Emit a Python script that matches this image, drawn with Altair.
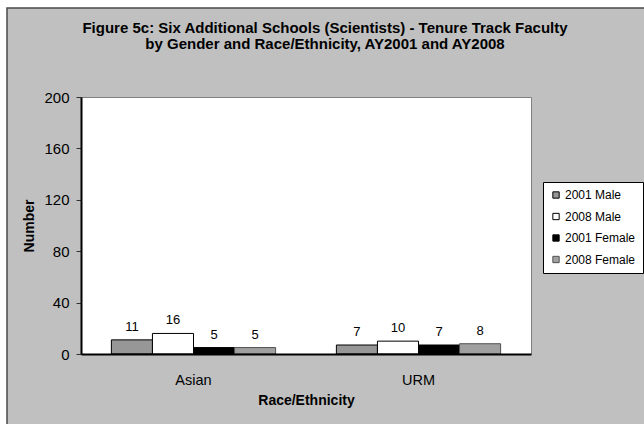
import altair as alt
import pandas as pd

# Faculty counts by race/ethnicity, split by year and gender
categories = ["Asian", "URM"]
series = ["2001 Male", "2008 Male", "2001 Female", "2008 Female"]
asian_counts = [11, 16, 5, 5]
urm_counts = [7, 10, 7, 8]

title_lines = [
    "Figure 5c: Six Additional Schools (Scientists) - Tenure Track Faculty",
    "by Gender and Race/Ethnicity, AY2001 and AY2008",
]

series_fill = ["#979797", "#ffffff", "#000000", "#a0a0a0"]
series_stroke = ["#000000", "#000000", "#000000", "#505050"]
y_ticks = [0, 40, 80, 120, 160, 200]

rows = []
for cat, vals in zip(categories, [asian_counts, urm_counts]):
    for s, v in zip(series, vals):
        rows.append({"group": cat, "series": s, "count": v})
df = pd.DataFrame(rows)

FONT = "Liberation Sans"
W, H = 450, 257
PAD = {"left": 81, "top": 97, "right": 113, "bottom": 70}

x_enc = alt.X(
    "group:N",
    sort=categories,
    title="Race/Ethnicity",
    scale=alt.Scale(paddingInner=0, paddingOuter=0),
    axis=alt.Axis(
        labelAngle=0,
        ticks=False,
        tickSize=0,
        labelPadding=19,
        labelFontSize=14.5,
        labelColor="black",
        labelFont=FONT,
        titleFont=FONT,
        titleFontSize=14,
        titleFontWeight="bold",
        titleColor="black",
        titlePadding=7,
        domainColor="black",
        domainWidth=2,
        grid=False,
        zindex=1,
    ),
)
xoff_enc = alt.XOffset(
    "series:N", sort=series, scale=alt.Scale(paddingInner=0, paddingOuter=0.74)
)
y_enc = alt.Y(
    "count:Q",
    title="Number",
    scale=alt.Scale(domain=[0, 200], nice=False, zero=True),
    axis=alt.Axis(
        values=y_ticks,
        tickSize=5,
        tickColor="#333333",
        labelPadding=7,
        labelFontSize=15,
        labelColor="black",
        labelFont=FONT,
        titleFont=FONT,
        titleFontSize=14,
        titleFontWeight="bold",
        titleColor="black",
        titlePadding=7,
        domainColor="black",
        domainWidth=2,
        grid=False,
        zindex=1,
    ),
)

legend = alt.Legend(
    title=None,
    orient="none",
    legendX=462,
    legendY=85,
    fillColor="white",
    strokeColor="black",
    padding=7,
    symbolType="square",
    symbolSize=40,
    symbolStrokeWidth=1,
    labelFont=FONT,
    labelFontSize=12,
    labelColor="black",
    labelOffset=3,
    rowPadding=9.5,
    zindex=1,
)

bars = alt.Chart(df).mark_bar(strokeWidth=1).encode(
    x=x_enc,
    xOffset=xoff_enc,
    y=y_enc,
    fill=alt.Fill(
        "series:N", sort=series,
        scale=alt.Scale(domain=series, range=series_fill), legend=legend,
    ),
    stroke=alt.Stroke(
        "series:N", sort=series,
        scale=alt.Scale(domain=series, range=series_stroke), legend=legend,
    ),
)

labels = alt.Chart(df).mark_text(
    font=FONT, fontSize=13, color="black", baseline="bottom", dy=-6
).encode(
    x=alt.X("group:N", sort=categories),
    xOffset=alt.XOffset("series:N", sort=series),
    y="count:Q",
    text="count:Q",
)

# Outer chart frame: white margin strips and a dark border line
one = pd.DataFrame({"k": [0]})
top_strip = alt.Chart(one).mark_rect(fill="white").encode(
    x=alt.value(-PAD["left"]), x2=alt.value(W + PAD["right"]),
    y=alt.value(-PAD["top"]), y2=alt.value(-PAD["top"] + 8),
)
left_strip = alt.Chart(one).mark_rect(fill="white").encode(
    x=alt.value(-PAD["left"]), x2=alt.value(-PAD["left"] + 7),
    y=alt.value(-PAD["top"]), y2=alt.value(H + PAD["bottom"]),
)
frame = alt.Chart(one).mark_rect(fill=None, stroke="#4a4a4a", strokeWidth=1.5).encode(
    x=alt.value(-PAD["left"] + 7), x2=alt.value(W + PAD["right"] + 10),
    y=alt.value(-PAD["top"] + 8), y2=alt.value(H + PAD["bottom"] + 10),
)

# Two-line chart heading, centred over the frame
heading = [
    alt.Chart(one).mark_text(
        text=line, font=FONT, fontSize=15, fontWeight="bold", color="black",
        align="center", baseline="alphabetic",
    ).encode(x=alt.value(W / 2 + 19), y=alt.value(-64 + 16 * i))
    for i, line in enumerate(title_lines)
]

chart = (
    alt.layer(top_strip, left_strip, frame, bars, labels, *heading)
    .properties(
        width=W,
        height=H,
        padding=PAD,
        autosize=alt.AutoSizeParams(type="none"),
        background="#c0c0c0",
    )
    .configure_view(fill="white", stroke="#808080", strokeWidth=1)
)

chart.save("out.html", embed_options={"renderer": "svg", "actions": False})
